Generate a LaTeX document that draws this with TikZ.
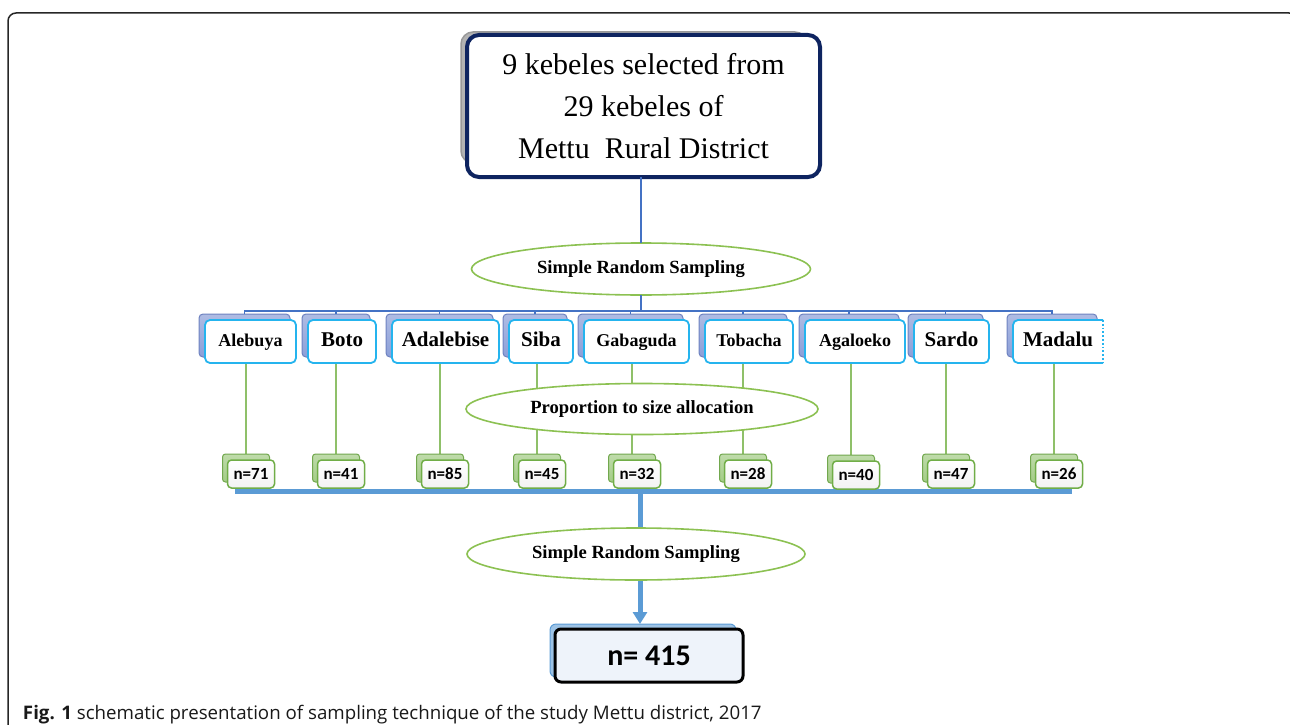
\documentclass[tikz,border=0pt]{standalone}
\usepackage{fontspec}
\setmainfont{Liberation Serif}
\newfontfamily\calfont{Carlito}
\newfontfamily\capfont{Open Sans}
\usetikzlibrary{shapes.geometric,arrows.meta}
\pgfdeclarelayer{bg}
\pgfsetlayers{bg,main}
\definecolor{navy}{HTML}{0E2460}
\definecolor{bluel}{HTML}{4472C4}
\definecolor{ellg}{HTML}{8CC152}
\definecolor{kcyan}{HTML}{25B4EE}
\definecolor{kshf}{HTML}{8C9FD8}
\definecolor{kshd}{HTML}{6E82C0}
\definecolor{greenl}{HTML}{8FC069}
\definecolor{nshf}{HTML}{A3CC86}
\definecolor{nshd}{HTML}{72A84E}
\definecolor{nbord}{HTML}{70AD47}
\definecolor{thickb}{HTML}{5B9BD5}
\definecolor{finbg}{HTML}{EEF3FA}
\definecolor{finsh}{HTML}{9DC3E6}
\begin{document}
\begin{tikzpicture}[x=1pt,y=-1pt,
  every node/.style={inner sep=0pt, outer sep=0pt},
  topbox/.style={draw=navy, line width=4pt, rounded corners=12pt, fill=white, minimum width=353pt, minimum height=142pt, align=center, font=\fontsize{30}{42}\selectfont},
  topshadow/.style={draw=gray!80, line width=1.5pt, rounded corners=12pt, left color=gray!60, right color=gray!15, minimum width=346pt, minimum height=131pt},
  oval/.style={ellipse, draw=ellg, line width=1.6pt, fill=white, font=\bfseries\fontsize{18.6}{20}\selectfont},
  kshadow/.style={draw=kshd, line width=1pt, rounded corners=4pt, top color=kshf!70, bottom color=kshf, minimum height=43pt},
  kbox/.style={draw=kcyan, line width=1.8pt, rounded corners=5pt, fill=white, minimum height=43pt, text height=13pt, text depth=3pt},
  ksmall/.style={font=\bfseries\fontsize{18}{20}\selectfont},
  kbig/.style={font=\bfseries\fontsize{21}{22}\selectfont},
  nshadow/.style={draw=nshd, line width=1pt, rounded corners=3pt, top color=nshf!70, bottom color=nshf, minimum width=47pt, minimum height=28pt},
  nbox/.style={draw=nbord, line width=1.5pt, rounded corners=4pt, top color=white, bottom color=gray!10, minimum width=47pt, minimum height=28pt, font=\calfont\bfseries\fontsize{17}{18}\selectfont},
  blueline/.style={draw=bluel, line width=2.2pt},
  thinblue/.style={draw=bluel, line width=1.4pt},
  greenline/.style={draw=greenl, line width=1.8pt},
  thickline/.style={draw=thickb, line width=5pt},
  finbox/.style={draw=black, line width=3pt, rounded corners=6pt, fill=finbg, minimum width=188pt, minimum height=53pt, font=\calfont\bfseries\fontsize{30}{32}\selectfont},
  finshadow/.style={draw=thickb, line width=1pt, rounded corners=6pt, fill=finsh, minimum width=186pt, minimum height=53pt},
  frame/.style={draw=black!85, line width=1.5pt, rounded corners=8pt},
]
\useasboundingbox (0,0) rectangle (1290,725);
\draw[frame] (8,760) -- (8,13) -- (1297,13) -- (1297,760);

% top box
\node[topshadow] (topS) at (634,97.5) {};
\node[topbox] (top) at (643.5,106) {9 kebeles selected from\\29 kebeles of\\Mettu\ \ Rural District};

% first sampling ellipse
\node[oval, minimum width=339pt, minimum height=52pt] (e1) at (641,269) {Simple Random Sampling};
\draw[blueline] (e1.north |- top.south) -- (e1.north);

% kebele boxes
\node[kshadow, minimum width=91pt] (s1) at (244.5,335.5) {};
\node[kbox, ksmall, minimum width=91pt] (k1) at (250.5,341.5) {Alebuya};
\node[kshadow, minimum width=68pt] (s2) at (336,335.5) {};
\node[kbox, kbig, minimum width=68pt] (k2) at (342,341.5) {Boto};
\node[kshadow, minimum width=107pt] (s3) at (439.5,335.5) {};
\node[kbox, kbig, minimum width=107pt] (k3) at (445.5,341.5) {Adalebise};
\node[kshadow, minimum width=64pt] (s4) at (535,335.5) {};
\node[kbox, kbig, minimum width=64pt] (k4) at (541,341.5) {Siba};
\node[kshadow, minimum width=105pt] (s5) at (630.5,335.5) {};
\node[kbox, ksmall, minimum width=105pt] (k5) at (636.5,341.5) {Gabaguda};
\node[kshadow, minimum width=88pt] (s6) at (743,335.5) {};
\node[kbox, ksmall, minimum width=88pt] (k6) at (749,341.5) {Tobacha};
\node[kshadow, minimum width=100pt] (s7) at (849,335.5) {};
\node[kbox, ksmall, minimum width=100pt] (k7) at (855,341.5) {Agaloeko};
\node[kshadow, minimum width=75pt] (s8) at (945.5,335.5) {};
\node[kbox, kbig, minimum width=75pt] (k8) at (951.5,341.5) {Sardo};
\node[kshadow, minimum width=90pt] (s9) at (1052,335.5) {};
\node[kbox, kbig, minimum width=90pt, draw=none] (k9) at (1058,341.5) {Madalu};
\draw[draw=kcyan, line width=1.8pt, rounded corners=5pt] (k9.north east) -- (k9.north west) -- (k9.south west) -- (k9.south east);
\draw[draw=kcyan, line width=1.8pt, dotted] (k9.north east) -- (k9.south east);

% distribution bar
\coordinate (hb) at (640,311);
\draw[blueline] (e1.south) -- (e1.south |- hb);
\draw[thinblue] (s1.north) -- (s1.north |- hb) -- (s9.north |- hb) -- (s9.north);
\foreach \s in {s2,s3,s4,s5,s6,s7,s8}{
  \draw[thinblue] (\s.north) -- (\s.north |- hb);
}

% proportion ellipse
\node[oval, minimum width=352pt, minimum height=51pt] (e2) at (642,409) {Proportion to size allocation};

% n boxes
\node[nshadow] (m1) at (246,468) {};
\node[nbox] (n1) at (251,474) {n=71};
\node[nshadow] (m2) at (336,468) {};
\node[nbox] (n2) at (341,474) {n=41};
\node[nshadow] (m3) at (440,468) {};
\node[nbox] (n3) at (445,474) {n=85};
\node[nshadow] (m4) at (537,468) {};
\node[nbox] (n4) at (542,474) {n=45};
\node[nshadow] (m5) at (632,468) {};
\node[nbox] (n5) at (637,474) {n=32};
\node[nshadow] (m6) at (743,468) {};
\node[nbox] (n6) at (748,474) {n=28};
\node[nshadow] (m7) at (851,469) {};
\node[nbox] (n7) at (856,475) {n=40};
\node[nshadow] (m8) at (946,468) {};
\node[nbox] (n8) at (951,474) {n=47};
\node[nshadow] (m9) at (1054,468) {};
\node[nbox] (n9) at (1059,474) {n=26};

\begin{pgfonlayer}{bg}
  \foreach \k/\m in {k1/m1,k2/m2,k3/m3,k4/m4,k5/m5,k6/m6,k7/m7,k8/m8,k9/m9}{
    \draw[greenline] (\k.south -| \m.north) -- (\m.north);
  }
  \coordinate (tbL) at (235,491);
  \coordinate (tbR) at (1072,491);
  \draw[thickline] (tbL) -- (tbR);
\end{pgfonlayer}

% final sampling
\coordinate (tbC) at (640,491);
\node[oval, minimum width=338pt, minimum height=52pt] (e3) at (636,554) {Simple Random Sampling};
\node[finshadow] (finS) at (643,650.5) {};
\node[finbox] (fin) at (649,655.5) {n= 415};
\begin{pgfonlayer}{bg}
  \draw[thickline] (tbC) -- (tbC |- e3.north);
  \draw[thickline, -{Triangle[length=12pt,width=14pt]}] (tbC |- e3.south) -- (tbC |- finS.north);
\end{pgfonlayer}

% caption
\node[anchor=base west, font=\capfont\fontsize{18.7}{22}\selectfont, text=black!90] (cap) at (23,719)
  {\textbf{Fig. 1} schematic presentation of sampling technique of the study Mettu district, 2017};
\end{tikzpicture}
\end{document}
